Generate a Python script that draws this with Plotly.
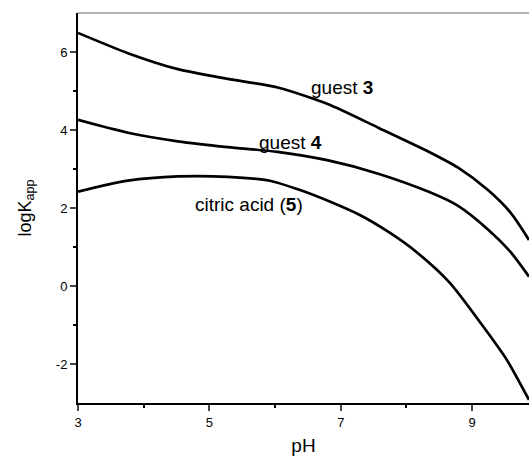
import plotly.graph_objects as go

ph_g3 = [3.0, 3.76, 4.52, 5.28, 6.04, 6.81, 7.57, 8.33, 8.78, 9.24, 9.59, 9.865]
logk_g3 = [6.49, 5.97, 5.56, 5.31, 5.09, 4.66, 4.06, 3.45, 3.04, 2.46, 1.87, 1.18]

ph_g4 = [3.0, 3.76, 4.52, 5.28, 6.04, 6.81, 7.57, 8.33, 8.78, 9.24, 9.59, 9.865]
logk_g4 = [4.26, 3.93, 3.71, 3.56, 3.44, 3.22, 2.88, 2.42, 2.06, 1.45, 0.86, 0.24]

ph_ca = [3.0, 3.76, 4.52, 5.28, 5.92, 6.38, 6.84, 7.29, 7.75, 8.16, 8.66, 9.16, 9.53, 9.865]
logk_ca = [2.42, 2.70, 2.81, 2.80, 2.70, 2.46, 2.16, 1.82, 1.36, 0.86, 0.08, -1.02, -1.90, -2.92]

labels = ["guest <b>3</b>", "guest <b>4</b>", "citric acid (<b>5</b>)"]
label_x = [7.02, 6.24, 5.6]
label_y = [5.1, 3.67, 2.08]

y_ticks = [-2, 0, 2, 4, 6]
y_ticktext = ["-2", "0", "2", "4", "6"]
x_ticks = [3, 5, 7, 9]

fig = go.Figure()
for xs, ys in [(ph_g3, logk_g3), (ph_g4, logk_g4), (ph_ca, logk_ca)]:
    fig.add_trace(go.Scatter(x=xs, y=ys, mode="lines",
                             line=dict(color="black", width=2.7, shape="spline", smoothing=0.7),
                             showlegend=False, hoverinfo="skip", cliponaxis=False))

for t, x, y in zip(labels, label_x, label_y):
    fig.add_annotation(x=x, y=y, text=t, showarrow=False,
                       font=dict(size=19, color="black", family="Liberation Sans, Arial"))

fig.add_shape(type="line", xref="paper", yref="paper", x0=0, x1=1, y0=1, y1=1,
              line=dict(color="#999999", width=1.5))

fig.update_layout(
    width=529, height=456,
    margin=dict(l=78, r=0, t=13, b=53),
    plot_bgcolor="white", paper_bgcolor="white",
    font=dict(family="Liberation Sans, Arial", color="black"),
    xaxis=dict(range=[3, 9.865], tickvals=x_ticks, ticks="outside", ticklen=6,
               tickwidth=1.5, showline=True, linecolor="black", linewidth=2,
               showgrid=False, zeroline=False, tickfont=dict(size=13),
               minor=dict(tickvals=[4, 6, 8], ticks="outside", ticklen=3, tickwidth=1.5, tickcolor="black"),
               title=dict(text="pH", font=dict(size=19), standoff=10)),
    yaxis=dict(range=[-3, 7], tickvals=y_ticks, ticktext=y_ticktext, ticks="outside", ticklen=6,
               tickwidth=1.5, showline=True, linecolor="black", linewidth=2,
               showgrid=False, zeroline=False, tickfont=dict(size=13),
               minor=dict(tickvals=[-1, 1, 3, 5], ticks="outside", ticklen=3, tickwidth=1.5, tickcolor="black"),
               title=dict(text="logK<sub>app</sub>", font=dict(size=18), standoff=20)),
)

fig.write_html("out.html")
